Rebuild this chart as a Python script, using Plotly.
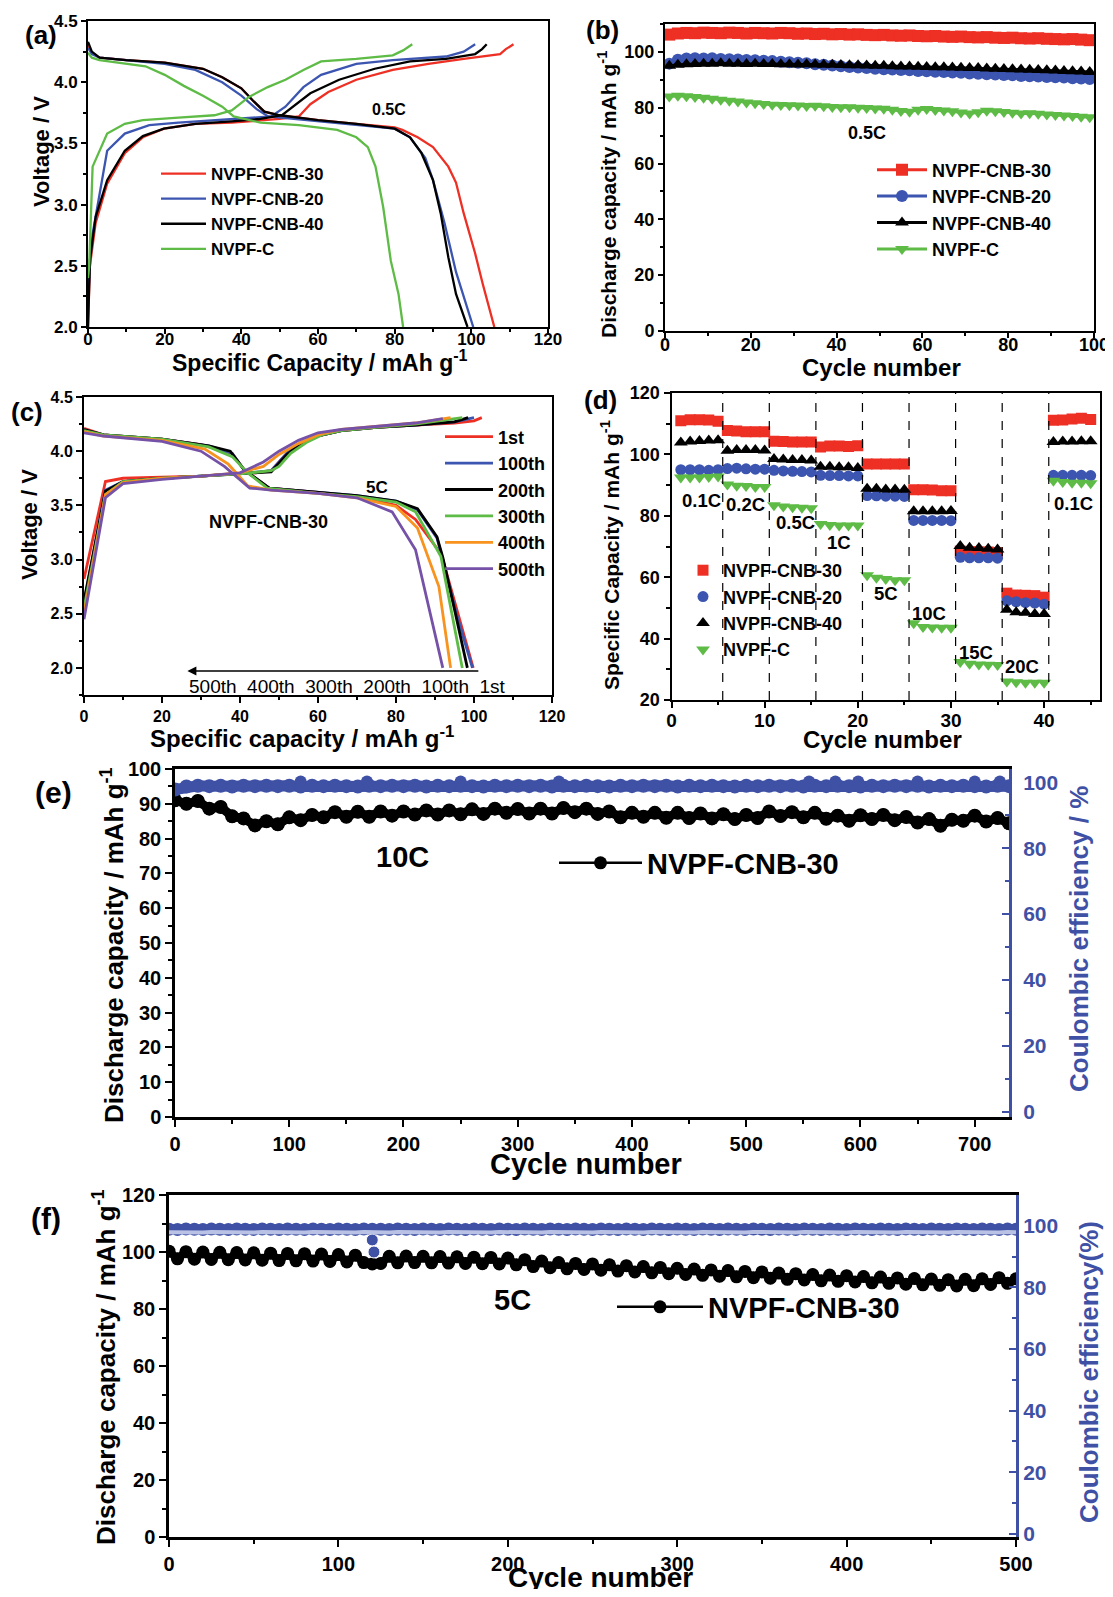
import plotly.graph_objects as go

# page body adds an 8px offset; lay the figure out in reference pixels minus that offset
OFF = 8
WL, HL = 1105, 1581
FONT = "Liberation Sans, Arial, Helvetica, sans-serif"
RED, BLUE, BLACK, GREEN = "#ee2f24", "#3b55b0", "#000000", "#5dbb46"
ORANGE, PURPLE = "#f7931e", "#7552a8"
CEBLUE = "#3f51a5"
CEPALE = "#b9c1e4"

# ---------------- (a) charge / discharge at 0.5C ----------------
a_names = ["NVPF-CNB-30", "NVPF-CNB-20", "NVPF-CNB-40", "NVPF-C"]
a_red_ch_x = [0, 0.5, 2, 5, 9.6, 14.3, 19.8, 28, 37.5, 45, 50, 55, 58, 62.7, 70, 79.5, 88.8, 98, 107.5, 109, 111]
a_red_ch_v = [2.0, 2.5, 2.85, 3.17, 3.42, 3.55, 3.62, 3.66, 3.67, 3.69, 3.70, 3.72, 3.82, 3.92, 4.02, 4.10, 4.15, 4.19, 4.23, 4.27, 4.31]
a_blu_ch_x = [0, 0.5, 1.2, 5, 9.6, 16, 23.6, 42, 47.8, 51.5, 56.2, 60.8, 70, 79.5, 93.4, 98, 101]
a_blu_ch_v = [2.2, 2.5, 2.76, 3.44, 3.58, 3.65, 3.67, 3.71, 3.72, 3.80, 3.96, 4.06, 4.15, 4.18, 4.21, 4.25, 4.31]
a_blk_ch_x = [0, 0.5, 2, 5, 9.6, 14.3, 19.8, 28, 37.5, 45, 50.6, 53.4, 58, 65.5, 74.8, 84, 93.4, 101, 102.8, 104]
a_blk_ch_v = [2.0, 2.55, 2.9, 3.2, 3.44, 3.56, 3.62, 3.66, 3.68, 3.70, 3.73, 3.80, 3.91, 4.02, 4.11, 4.17, 4.19, 4.23, 4.27, 4.31]
a_grn_ch_x = [0, 0.3, 1.2, 5, 9.6, 14.3, 23.6, 33, 37.5, 42, 46.9, 51.5, 56.2, 60.8, 70, 79.5, 82.2, 84.6]
a_grn_ch_v = [2.4, 2.49, 3.31, 3.58, 3.66, 3.69, 3.71, 3.73, 3.77, 3.88, 3.96, 4.02, 4.10, 4.17, 4.19, 4.22, 4.26, 4.31]

a_red_dis_x = [0, 1, 3, 10, 20, 30, 35, 40, 43, 46, 50, 60, 70, 80, 82, 86, 90, 94, 96, 98, 101, 103, 106]
a_red_dis_v = [4.30, 4.24, 4.20, 4.18, 4.16, 4.11, 4.04, 3.95, 3.85, 3.76, 3.73, 3.69, 3.66, 3.63, 3.61, 3.55, 3.47, 3.31, 3.18, 2.93, 2.60, 2.35, 2.0]
a_blu_dis_x = [0, 1, 3, 10, 20, 28, 35, 40, 44, 47, 60, 80, 84, 88, 90, 93, 96, 98.5, 100.5]
a_blu_dis_v = [4.28, 4.23, 4.20, 4.18, 4.15, 4.10, 4.00, 3.89, 3.78, 3.72, 3.68, 3.62, 3.55, 3.38, 3.20, 2.85, 2.45, 2.20, 2.0]
a_blk_dis_x = [0, 1, 3, 10, 20, 30, 35, 40, 43, 46, 50, 60, 70, 80, 84, 87, 90, 92, 94, 96, 99]
a_blk_dis_v = [4.33, 4.25, 4.20, 4.18, 4.16, 4.11, 4.04, 3.95, 3.85, 3.76, 3.73, 3.69, 3.66, 3.62, 3.55, 3.42, 3.20, 2.93, 2.57, 2.27, 2.0]
a_grn_dis_x = [0, 1, 3, 10, 15, 20, 25, 30, 35, 38, 45, 55, 65, 70, 73, 75, 77, 79, 81, 82.2]
a_grn_dis_v = [4.24, 4.20, 4.18, 4.15, 4.13, 4.06, 3.97, 3.89, 3.80, 3.72, 3.67, 3.65, 3.61, 3.55, 3.47, 3.31, 2.98, 2.54, 2.27, 2.0]

# ---------------- (b) cycling at 0.5C ----------------
b_cycles = list(range(1, 100, 2))
b_red = [106.2, 106.6, 106.8, 106.7, 106.9, 106.8, 106.7, 106.9, 106.8, 106.6,
         106.8, 106.7, 106.6, 106.8, 106.7, 106.5, 106.6, 106.4, 106.5, 106.3,
         106.4, 106.2, 106.3, 106.1, 106.0, 106.1, 105.9, 105.8, 105.9, 105.7,
         105.6, 105.7, 105.5, 105.4, 105.5, 105.3, 105.2, 105.3, 105.1, 105.0,
         105.1, 104.9, 104.8, 104.9, 104.7, 104.6, 104.5, 104.6, 104.4, 104.2]
b_blue = [95.8, 97.2, 97.6, 97.7, 97.6, 97.7, 97.5, 97.4, 97.3, 97.1,
          97.0, 96.8, 96.7, 96.5, 96.3, 96.1, 95.9, 95.6, 95.4, 95.1,
          94.9, 94.6, 94.4, 94.2, 94.0, 93.8, 93.7, 93.5, 93.4, 93.2,
          93.1, 92.9, 92.8, 92.6, 92.5, 92.3, 92.2, 92.0, 91.9, 91.7,
          91.6, 91.4, 91.3, 91.2, 91.0, 90.9, 90.8, 90.6, 90.5, 90.3]
b_black = [95.0, 95.4, 95.6, 95.7, 95.8, 95.8, 95.9, 95.8, 95.8, 95.7,
           95.8, 95.7, 95.7, 95.6, 95.6, 95.5, 95.6, 95.5, 95.4, 95.4,
           95.3, 95.2, 95.2, 95.1, 95.0, 95.0, 94.9, 94.8, 94.8, 94.7,
           94.6, 94.5, 94.5, 94.4, 94.3, 94.2, 94.2, 94.1, 94.0, 93.9,
           93.8, 93.7, 93.6, 93.5, 93.4, 93.3, 93.2, 93.1, 93.0, 92.8]
b_green = [84.0, 84.3, 84.1, 83.8, 83.6, 83.2, 82.9, 82.5, 82.2, 81.9,
           81.6, 81.3, 81.1, 81.0, 80.9, 80.8, 80.6, 80.7, 80.5, 80.3,
           80.2, 80.2, 80.0, 79.9, 79.7, 79.6, 79.3, 78.8, 78.6, 79.3,
           79.5, 79.2, 79.0, 78.7, 78.3, 77.9, 78.4, 78.9, 78.7, 78.5,
           78.2, 77.9, 78.0, 77.8, 77.6, 77.4, 77.2, 77.0, 76.8, 76.6]

# ---------------- (c) NVPF-CNB-30 at 5C, selected cycles ----------------
c_labels = ["1st", "100th", "200th", "300th", "400th", "500th"]
c_colors = [RED, BLUE, BLACK, GREEN, ORANGE, PURPLE]
c_ch_x = [
    [0, 5.5, 10, 20, 30, 38, 44, 48, 52, 56, 60, 66, 75, 85, 95, 100, 102],
    [0, 5.5, 10, 20, 30, 40, 48, 52, 56, 60, 66, 75, 85, 95, 100],
    [0, 5.5, 10, 20, 30, 40, 48, 52, 56, 60, 66, 75, 85, 95, 98.5],
    [0, 5.5, 10, 20, 30, 40, 48, 50, 53, 57, 61, 66, 75, 85, 97],
    [0, 5.5, 10, 20, 30, 40, 46, 50, 55, 60, 66, 75, 85, 94],
    [0, 5.5, 10, 20, 30, 40, 46, 50, 55, 60, 66, 75, 85, 92],
]
c_ch_v = [
    [2.82, 3.72, 3.75, 3.76, 3.77, 3.79, 3.80, 3.82, 3.98, 4.08, 4.14, 4.19, 4.22, 4.24, 4.26, 4.28, 4.31],
    [2.60, 3.64, 3.72, 3.75, 3.77, 3.79, 3.82, 3.98, 4.08, 4.14, 4.19, 4.22, 4.24, 4.27, 4.31],
    [2.62, 3.63, 3.72, 3.75, 3.77, 3.79, 3.81, 3.97, 4.08, 4.14, 4.19, 4.22, 4.24, 4.27, 4.31],
    [2.55, 3.60, 3.72, 3.75, 3.77, 3.79, 3.82, 3.86, 3.98, 4.08, 4.15, 4.19, 4.22, 4.25, 4.31],
    [2.50, 3.60, 3.71, 3.75, 3.77, 3.80, 3.86, 3.97, 4.07, 4.15, 4.20, 4.23, 4.26, 4.31],
    [2.45, 3.57, 3.70, 3.74, 3.77, 3.80, 3.90, 4.00, 4.10, 4.17, 4.20, 4.23, 4.26, 4.30],
]
c_dis_x = [
    [0, 5, 20, 30, 38, 41, 47.5, 60, 70, 80, 85, 91, 92, 96, 99.8],
    [0, 5, 20, 32, 38, 41, 47.5, 60, 70, 80, 85.5, 90.5, 92, 95.5, 99.6],
    [0, 5, 20, 32, 37.5, 41, 47.5, 60, 70, 80, 85.5, 90.5, 92, 95, 98.3],
    [0, 5, 20, 32, 38, 42, 47, 60, 70, 80, 85, 91.5, 97],
    [0, 5, 20, 31, 37, 42, 48, 60, 70, 80, 85.5, 91, 94],
    [0, 5, 20, 30, 36, 42.5, 48, 60, 70, 79, 85, 92],
]
c_dis_v = [
    [4.21, 4.15, 4.11, 4.06, 3.98, 3.83, 3.66, 3.62, 3.58, 3.50, 3.37, 3.08, 3.00, 2.50, 2.0],
    [4.20, 4.15, 4.11, 4.05, 3.98, 3.83, 3.66, 3.62, 3.59, 3.54, 3.46, 3.20, 3.00, 2.50, 2.0],
    [4.20, 4.15, 4.11, 4.05, 4.00, 3.83, 3.66, 3.62, 3.59, 3.54, 3.47, 3.21, 3.02, 2.54, 2.0],
    [4.19, 4.15, 4.11, 4.04, 3.95, 3.80, 3.66, 3.61, 3.58, 3.53, 3.44, 3.03, 2.0],
    [4.18, 4.14, 4.10, 4.02, 3.88, 3.68, 3.64, 3.61, 3.57, 3.49, 3.29, 2.75, 2.0],
    [4.17, 4.14, 4.09, 4.00, 3.86, 3.66, 3.64, 3.61, 3.57, 3.44, 3.09, 2.0],
]
c_arrow_x = [101.5, 26.5]   # tail, head (capacity)
c_arrow_v = 1.972

# ---------------- (d) rate capability ----------------
d_cycles = list(range(1, 46))
d_bounds = [5.5, 10.5, 15.5, 20.5, 25.5, 30.5, 35.5, 40.5]
d_red = [111.0, 111.3, 111.3, 111.2, 110.8, 107.8, 107.6, 107.4, 107.4, 107.4,
         104.3, 104.2, 104.0, 104.0, 104.0, 102.4, 102.7, 102.7, 102.6, 102.8,
         96.9, 96.9, 96.9, 96.9, 96.9, 88.5, 88.5, 88.4, 88.2, 88.2,
         68.5, 68.3, 68.2, 68.2, 68.0, 54.8, 54.2, 54.1, 54.0, 53.5,
         111.1, 111.2, 111.5, 111.8, 111.4]
d_blue = [95.0, 95.0, 95.0, 94.8, 95.0, 95.4, 95.5, 95.3, 95.2, 95.2,
          94.8, 94.6, 94.5, 94.4, 94.3, 93.2, 93.1, 93.1, 93.0, 93.0,
          86.6, 86.5, 86.4, 86.4, 86.3, 78.5, 78.5, 78.5, 78.5, 78.4,
          66.5, 66.3, 66.3, 66.3, 66.2, 52.3, 52.0, 51.7, 51.6, 51.2,
          93.2, 93.2, 93.2, 93.2, 93.1]
d_black = [103.9, 104.2, 104.4, 104.5, 104.6, 101.2, 101.4, 101.4, 101.4, 101.3,
           98.5, 98.3, 98.2, 98.2, 98.0, 96.0, 96.0, 95.8, 95.8, 95.6,
           88.8, 88.8, 88.6, 88.6, 88.5, 81.5, 81.5, 81.5, 81.5, 81.6,
           70.2, 69.6, 69.5, 69.3, 69.0, 49.4, 48.6, 48.4, 48.0, 48.0,
           104.0, 104.2, 104.2, 104.3, 104.3]
d_green = [92.5, 92.5, 92.5, 92.6, 92.8, 90.2, 89.8, 89.7, 89.4, 89.4,
           83.4, 83.0, 82.8, 82.6, 82.5, 77.3, 77.0, 76.8, 76.8, 76.8,
           60.6, 59.8, 59.4, 59.0, 59.0, 45.0, 43.8, 43.6, 43.5, 43.5,
           32.4, 31.8, 31.6, 31.5, 31.4, 26.0, 25.8, 25.6, 25.6, 25.6,
           91.4, 91.0, 90.8, 90.8, 90.6]
d_rates = ["0.1C", "0.2C", "0.5C", "1C", "5C", "10C", "15C", "20C", "0.1C"]

# ---------------- (e) long cycling at 10C ----------------
e_cycles = list(range(0, 731, 10))
e_cap = [91.0, 90.0, 90.8, 88.6, 89.1, 86.4, 85.8, 83.8, 85.0, 84.1,
         86.1, 85.3, 86.8, 86.1, 87.6, 86.3, 87.7, 86.3, 87.8, 86.6,
         87.8, 86.9, 88.1, 86.9, 88.1, 87.0, 88.4, 87.1, 88.6, 87.4,
         88.5, 87.2, 88.6, 87.2, 88.8, 87.6, 88.6, 87.1, 87.8, 86.1,
         87.4, 86.3, 87.4, 86.0, 87.4, 85.9, 87.2, 85.8, 87.0, 85.6,
         86.8, 85.9, 87.8, 86.5, 87.6, 86.1, 87.4, 85.7, 86.6, 85.1,
         86.7, 85.6, 86.8, 85.3, 86.2, 84.6, 85.6, 83.7, 85.4, 85.1,
         86.6, 84.9, 85.9, 84.4]
e_ce = [97.8, 98.7, 98.9, 98.8, 98.9, 98.7, 98.9, 98.8, 98.9, 98.8,
        98.9, 98.7, 98.9, 98.8, 98.9, 98.8, 98.7, 98.9, 98.8, 98.9,
        98.8, 98.9, 98.7, 98.9, 98.8, 98.9, 98.8, 98.7, 98.9, 98.8,
        98.9, 98.8, 98.9, 98.7, 98.9, 98.8, 98.9, 98.8, 98.7, 98.9,
        98.8, 98.9, 98.8, 98.9, 98.7, 98.9, 98.8, 98.9, 98.8, 98.7,
        98.9, 98.8, 98.9, 98.8, 98.9, 98.7, 98.9, 98.8, 98.9, 98.8,
        98.7, 98.9, 98.8, 98.9, 98.8, 98.9, 98.7, 98.9, 98.8, 98.9,
        98.8, 98.7, 98.9, 98.8]
e_ce_hi_x = [110, 168, 250, 336, 555, 578, 598, 650, 700, 722]
e_ce_hi = [100.2, 100.2, 100.2, 100.2, 100.2, 100.2, 100.2, 100.2, 100.2, 100.2]

# ---------------- (f) long cycling at 5C ----------------
f_cycles = list(range(0, 501, 5))
f_cap = [100.3, 97.6, 100.1, 97.5, 100.0, 97.4, 99.9, 97.3, 99.8, 97.2,
         99.7, 97.1, 99.6, 97.0, 99.5, 96.9, 99.4, 96.8, 99.3, 96.7,
         99.1, 96.5, 98.9, 96.3, 95.8, 96.0, 98.5, 96.2, 98.6, 96.3,
         98.5, 96.2, 98.4, 96.1, 98.3, 96.0, 98.2, 95.9, 98.1, 95.8,
         97.9, 95.5, 97.3, 94.9, 96.8, 94.5, 96.3, 94.1, 96.0, 93.9,
         95.8, 93.6, 95.5, 93.3, 95.2, 93.0, 94.9, 92.7, 94.6, 92.4,
         94.3, 92.1, 94.0, 91.8, 93.7, 91.5, 93.5, 91.3, 93.2, 91.0,
         93.0, 90.8, 92.6, 90.4, 92.4, 90.2, 92.1, 89.9, 91.9, 89.7,
         91.7, 89.5, 91.4, 89.2, 91.2, 89.0, 90.9, 88.7, 90.7, 88.5,
         90.5, 88.3, 90.3, 88.1, 90.4, 88.2, 90.6, 88.6, 91.0, 89.0,
         90.6]
f_ce = [98.9, 98.8, 99.0, 98.9, 98.8, 99.0, 98.9, 98.8, 99.0, 98.9,
        98.8, 99.0, 98.9, 98.8, 99.0, 98.9, 98.8, 99.0, 98.9, 98.8,
        99.0, 98.9, 98.8, 99.0, 98.9, 98.9, 98.8, 99.0, 98.9, 98.8,
        99.0, 98.9, 98.8, 99.0, 98.9, 98.8, 99.0, 98.9, 98.8, 99.0,
        98.9, 98.8, 99.0, 98.9, 98.8, 99.0, 98.9, 98.8, 99.0, 98.9,
        98.8, 99.0, 98.9, 98.8, 99.0, 98.9, 98.8, 99.0, 98.9, 98.8,
        99.0, 98.9, 98.8, 99.0, 98.9, 98.8, 99.0, 98.9, 98.8, 99.0,
        98.9, 98.8, 99.0, 98.9, 98.8, 99.0, 98.9, 98.8, 99.0, 98.9,
        98.8, 99.0, 98.9, 98.8, 99.0, 98.9, 98.8, 99.0, 98.9, 98.8,
        99.0, 98.9, 98.8, 99.0, 98.9, 98.8, 99.0, 98.9, 98.8, 99.0,
        98.9]
f_ce_out_x = [120, 121]
f_ce_out = [95.4, 91.5]


# ---------------- helpers ----------------
def X(p):
    return (p - OFF) / WL


def Y(p):
    return 1 - (p - OFF) / HL


def axis(dom, rng, dtick, mdtick, anchor, fsize, color=BLACK, mirror=True,
         ticks="outside", fmt=None, lw=2, ticklen=6, side=None, overlaying=None,
         standoff=0):
    d = dict(range=rng, dtick=dtick, anchor=anchor, showline=True,
             linecolor=color, linewidth=lw, mirror=mirror, ticks=ticks,
             ticklen=ticklen, tickwidth=2, tickcolor=color, showgrid=False,
             zeroline=False, automargin=False, ticklabelstandoff=standoff,
             ticklabeloverflow="allow",
             tickfont=dict(family=FONT, size=fsize, color=color, weight="bold"),
             minor=dict(dtick=mdtick, ticks=ticks, ticklen=ticklen * 0.55,
                        tickwidth=1.5, tickcolor=color, showgrid=False))
    if dom is not None:
        d["domain"] = dom
    if fmt:
        d["tickformat"] = fmt
    if side:
        d["side"] = side
    if overlaying:
        d["overlaying"] = overlaying
    return d


def T(text, xp, yp, size, color=BLACK, angle=0, weight="bold"):
    return dict(text=text, x=X(xp), y=Y(yp), xref="paper", yref="paper",
                showarrow=False, textangle=angle, xanchor="center",
                yanchor="middle",
                font=dict(family=FONT, size=size, color=color, weight=weight))


def L(xp, yp, size, itemwidth):
    return dict(x=X(xp), y=Y(yp), xanchor="left", yanchor="middle",
                xref="paper", yref="paper", bgcolor="rgba(0,0,0,0)",
                borderwidth=0, itemwidth=itemwidth, itemsizing="trace",
                font=dict(family=FONT, size=size, color=BLACK, weight="bold"))


fig = go.Figure()

# (a)
a_series = [
    (a_names[0], RED, a_red_ch_x, a_red_ch_v, a_red_dis_x, a_red_dis_v),
    (a_names[1], BLUE, a_blu_ch_x, a_blu_ch_v, a_blu_dis_x, a_blu_dis_v),
    (a_names[2], BLACK, a_blk_ch_x, a_blk_ch_v, a_blk_dis_x, a_blk_dis_v),
    (a_names[3], GREEN, a_grn_ch_x, a_grn_ch_v, a_grn_dis_x, a_grn_dis_v),
]
for name, col, cx, cv, dx, dv in a_series:
    fig.add_trace(go.Scatter(x=cx + [None] + dx, y=cv + [None] + dv,
                             mode="lines", line=dict(color=col, width=2.3),
                             name=name, xaxis="x", yaxis="y", legend="legend"))

# (b)
b_series = [(a_names[0], RED, "square", b_red), (a_names[1], BLUE, "circle", b_blue),
            (a_names[2], BLACK, "triangle-up", b_black), (a_names[3], GREEN, "triangle-down", b_green)]
for name, col, sym, vals in b_series:
    fig.add_trace(go.Scatter(x=b_cycles, y=vals, mode="lines+markers",
                             line=dict(color=col, width=3),
                             marker=dict(color=col, symbol=sym, size=12),
                             name=name, xaxis="x2", yaxis="y2", legend="legend2"))

# (c)
for lab, col, cx, cv, dx, dv in zip(c_labels, c_colors, c_ch_x, c_ch_v, c_dis_x, c_dis_v):
    fig.add_trace(go.Scatter(x=cx + [None] + dx, y=cv + [None] + dv,
                             mode="lines", line=dict(color=col, width=2.8),
                             name=lab, xaxis="x3", yaxis="y3", legend="legend3"))

# (d)
d_series = [(a_names[0], RED, "square", d_red, 11), (a_names[1], BLUE, "circle", d_blue, 11),
            (a_names[2], BLACK, "triangle-up", d_black, 12), (a_names[3], GREEN, "triangle-down", d_green, 12)]
for name, col, sym, vals, sz in d_series:
    fig.add_trace(go.Scatter(x=d_cycles, y=vals, mode="markers",
                             marker=dict(color=col, symbol=sym, size=sz),
                             name=name, xaxis="x4", yaxis="y4", legend="legend4"))

# (e)
fig.add_trace(go.Scatter(x=e_cycles, y=e_ce, mode="lines+markers",
                         line=dict(color=CEBLUE, width=11),
                         marker=dict(color=CEBLUE, size=14), showlegend=False,
                         xaxis="x5", yaxis="y7"))
fig.add_trace(go.Scatter(x=e_ce_hi_x, y=e_ce_hi, mode="markers",
                         marker=dict(color=CEBLUE, size=12), showlegend=False,
                         xaxis="x5", yaxis="y7"))
fig.add_trace(go.Scatter(x=e_cycles, y=e_cap, mode="lines+markers",
                         line=dict(color=BLACK, width=9),
                         marker=dict(color=BLACK, size=14), showlegend=False,
                         xaxis="x5", yaxis="y5"))
fig.add_trace(go.Scatter(x=e_cycles, y=e_cap, mode="lines+markers",
                         line=dict(color=BLACK, width=2.5),
                         marker=dict(color=BLACK, size=13),
                         name="NVPF-CNB-30", xaxis="x5", yaxis="y5", legend="legend5"))

# (f)
fig.add_trace(go.Scatter(x=f_cycles, y=f_cap, mode="lines+markers",
                         line=dict(color=BLACK, width=8),
                         marker=dict(color=BLACK, size=12), showlegend=False,
                         xaxis="x6", yaxis="y6"))
fig.add_trace(go.Scatter(x=f_cycles, y=f_cap, mode="lines+markers",
                         line=dict(color=BLACK, width=2.5),
                         marker=dict(color=BLACK, size=13),
                         name="NVPF-CNB-30", xaxis="x6", yaxis="y6", legend="legend6"))
fig.add_trace(go.Scatter(x=f_cycles, y=f_ce, mode="lines+markers",
                         line=dict(color=CEBLUE, width=10),
                         marker=dict(color=CEBLUE, size=13),
                         showlegend=False, xaxis="x6", yaxis="y8"))
# paler lower half of the half-filled CE symbols (same data, axis shifted by 1 unit)
fig.add_trace(go.Scatter(x=f_cycles, y=f_ce, mode="lines",
                         line=dict(color=CEPALE, width=4),
                         showlegend=False, xaxis="x6", yaxis="y9"))
fig.add_trace(go.Scatter(x=f_ce_out_x, y=f_ce_out, mode="markers",
                         marker=dict(color=CEBLUE, size=12, line=dict(color="white", width=1)),
                         showlegend=False, xaxis="x6", yaxis="y8"))

# ---------------- layout ----------------
shapes = [dict(type="line", xref="x4", yref="y4 domain", x0=b, x1=b, y0=0, y1=1,
               line=dict(color=BLACK, width=1.2, dash="dash")) for b in d_bounds]

annotations = [
    # (a)
    T("(a)", 41, 35, 26), T("0.5C", 389, 110, 16),
    T("Voltage / V", 42, 152, 22, angle=-90),
    T("Specific Capacity / mAh g<sup>-1</sup>", 320, 361, 23),
    # (b)
    T("(b)", 602, 30, 26), T("0.5C", 867, 133, 18),
    T("Discharge capacity / mAh g<sup>-1</sup>", 607, 195, 21, angle=-90),
    T("Cycle number", 881, 368, 24),
    # (c)
    T("(c)", 27, 412, 26), T("5C", 377, 487, 17), T("NVPF-CNB-30", 268, 522, 18),
    T("Voltage / V", 29, 525, 22, angle=-90),
    T("Specific capacity / mAh g<sup>-1</sup>", 302, 737, 24),
    T("500th&nbsp; 400th&nbsp; 300th&nbsp; 200th&nbsp; 100th&nbsp; 1st", 347, 686, 19, weight="normal"),
    dict(x=c_arrow_x[1], y=c_arrow_v, ax=c_arrow_x[0], ay=c_arrow_v, xref="x3", yref="y3",
         axref="x3", ayref="y3", text="", showarrow=True, arrowhead=2, arrowsize=1.2,
         arrowwidth=1.5, arrowcolor=BLACK),
    # (d)
    T("(d)", 600, 400, 26),
    T("Specific Capacity / mAh g<sup>-1</sup>", 610, 555, 21, angle=-90),
    T("Cycle number", 882, 739, 24),
    # (e)
    T("(e)", 53, 792, 30), T("10C", 402, 857, 29),
    T("Discharge capacity / mAh g<sup>-1</sup>", 112, 945, 26, angle=-90),
    T("Cycle number", 586, 1164, 29),
    T("Coulombic efficiency / %", 1079, 939, 26, color=CEBLUE, angle=-90),
    # (f)
    T("(f)", 46, 1218, 30), T("5C", 512, 1300, 29),
    T("Discharge capacity / mAh g<sup>-1</sup>", 104, 1367, 26, angle=-90),
    T("Cycle number", 600, 1577, 28),
    T("Coulombic efficiency(%)", 1089, 1372, 26, color=CEBLUE, angle=-90),
]

d_label_pos = [(701, 500), (745, 505), (795, 522), (839, 542), (886, 593),
               (929, 613), (976, 652), (1022, 667), (1073, 503)]
for txt, (xp, yp) in zip(d_rates, d_label_pos):
    annotations.append(T(txt, xp, yp, 18.5))

fig.update_layout(
    width=WL, height=HL, margin=dict(l=0, r=0, t=0, b=0, pad=0, autoexpand=False),
    paper_bgcolor="white", plot_bgcolor="white",
    font=dict(family=FONT, color=BLACK),
    xaxis=axis([X(88), X(548)], [0, 120], 20, 10, "y", 17, ticklen=5, standoff=-9),
    yaxis=axis([Y(327), Y(21)], [2.0, 4.5], 0.5, 0.25, "x", 17, fmt=".1f", ticklen=5),
    xaxis2=axis([X(665), X(1094)], [0, 100], 20, 10, "y2", 18, ticklen=5, standoff=-9),
    yaxis2=axis([Y(331), Y(24)], [0, 110], 20, 10, "x2", 18, ticklen=5),
    xaxis3=axis([X(84), X(552)], [0, 120], 20, 10, "y3", 16),
    yaxis3=axis([Y(695), Y(397)], [1.75, 4.5], 0.5, 0.25, "x3", 16, fmt=".1f"),
    xaxis4=axis([X(671.5), X(1100)], [0, 46], 10, 5, "y4", 19, standoff=-4),
    yaxis4=axis([Y(700), Y(393)], [20, 120], 20, 10, "x4", 18),
    xaxis5=axis([X(175), X(1009)], [0, 730], 100, 50, "y5", 20, lw=2.5, ticklen=7),
    yaxis5=axis([Y(1117), Y(769)], [0, 100], 10, 5, "x5", 20, mirror=False, lw=2.5, ticklen=7),
    yaxis7=axis(None, [-1.5, 104], 20, 10, "x5", 21, color=CEBLUE, mirror=False,
                ticks="inside", side="right", overlaying="y5", lw=3, ticklen=7, standoff=7),
    xaxis6=axis([X(169), X(1016)], [0, 500], 100, 50, "y6", 20, lw=2.5, ticklen=7),
    yaxis6=axis([Y(1537), Y(1195)], [0, 120], 20, 10, "x6", 20, mirror=False, lw=2.5, ticklen=7),
    yaxis8=axis(None, [-1, 110], 20, 10, "x6", 21, color=CEBLUE, mirror=False,
                ticks="inside", side="right", overlaying="y6", lw=3, ticklen=7),
    yaxis9=dict(range=[0, 111], overlaying="y6", anchor="x6", visible=False,
                showgrid=False, zeroline=False),
    legend=L(156, 211.5, 17, 45),
    legend2=L(872, 209.5, 18, 50),
    legend3=L(440, 503, 18, 48),
    legend4=L(683, 610, 18, 30),
    legend5=L(554, 863, 29, 83),
    legend6=L(612, 1307, 29, 86),
    shapes=shapes,
    annotations=annotations,
)

fig.write_html("out.html")
